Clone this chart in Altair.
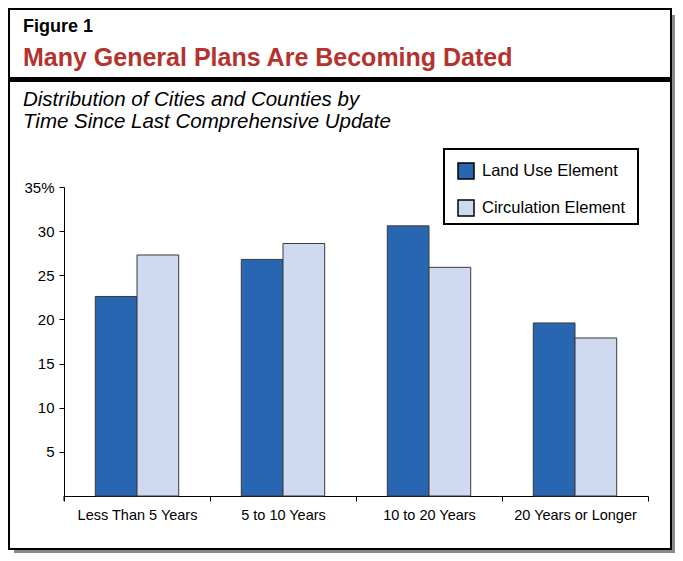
import altair as alt
import pandas as pd

categories = ["Less Than 5 Years", "5 to 10 Years", "10 to 20 Years", "20 Years or Longer"]
series = ["Land Use Element", "Circulation Element"]
land_use = [22.6, 26.8, 30.6, 19.6]
circulation = [27.3, 28.6, 25.9, 17.9]
colors = ["#2866b1", "#cfd9ef"]
y_ticks = [5, 10, 15, 20, 25, 30, 35]

fig_label = "Figure 1"
title_text = "Many General Plans Are Becoming Dated"
subtitle_lines = ["Distribution of Cities and Counties by", "Time Since Last Comprehensive Update"]

FONT = "Liberation Sans"

rows = []
for c, a, b in zip(categories, land_use, circulation):
    rows.append({"period": c, "element": series[0], "pct": a})
    rows.append({"period": c, "element": series[1], "pct": b})
df = pd.DataFrame(rows)
one = pd.DataFrame({"k": [0]})

W, H = 584, 309

# decorations (pixel positions relative to the plot area)
border = alt.Chart(one).mark_rect(fill=None, stroke="black", strokeWidth=2).encode(
    x=alt.value(-55), x2=alt.value(607), y=alt.value(-178), y2=alt.value(362))
shadow_r = alt.Chart(one).mark_rect(fill="#8a8a8a").encode(
    x=alt.value(608), x2=alt.value(611), y=alt.value(-172), y2=alt.value(366))
shadow_b = alt.Chart(one).mark_rect(fill="#8a8a8a").encode(
    x=alt.value(-50), x2=alt.value(611), y=alt.value(363), y2=alt.value(366))
band = alt.Chart(one).mark_rect(fill="black").encode(
    x=alt.value(-56), x2=alt.value(608), y=alt.value(-110), y2=alt.value(-105))

t_fig = alt.Chart(one).mark_text(font=FONT, fontSize=18, fontWeight="bold", align="left",
                                 baseline="alphabetic", color="black").encode(
    x=alt.value(-41), y=alt.value(-155), text=alt.value(fig_label))
t_title = alt.Chart(one).mark_text(font=FONT, fontSize=25, fontWeight="bold", align="left",
                                   baseline="alphabetic", color="#b5332e").encode(
    x=alt.value(-41), y=alt.value(-121), text=alt.value(title_text))
t_sub1 = alt.Chart(one).mark_text(font=FONT, fontSize=20.5, fontStyle="italic", align="left",
                                  baseline="alphabetic", color="black").encode(
    x=alt.value(-41), y=alt.value(-81), text=alt.value(subtitle_lines[0]))
t_sub2 = alt.Chart(one).mark_text(font=FONT, fontSize=20.5, fontStyle="italic", align="left",
                                  baseline="alphabetic", color="black").encode(
    x=alt.value(-41), y=alt.value(-59), text=alt.value(subtitle_lines[1]))

legend_box = alt.Chart(one).mark_rect(fill="white", stroke="black", strokeWidth=2).encode(
    x=alt.value(380), x2=alt.value(574), y=alt.value(-38), y2=alt.value(37))

yext = alt.Chart(one).mark_rule(color="black", strokeWidth=1).encode(
    x=alt.value(0), y=alt.value(H), y2=alt.value(H + 5))

bars = alt.Chart(df).mark_bar(stroke="#3a3a3a", strokeWidth=1).encode(
    x=alt.X("period:N", sort=categories,
            scale=alt.Scale(paddingInner=0, paddingOuter=0),
            axis=alt.Axis(title=None, labelAngle=0, tickBand="extent", tickSize=5,
                          labelPadding=7, labelFontSize=14.5, labelFont=FONT,
                          labelColor="black", domainColor="black", tickColor="black",
                          domainWidth=1, tickWidth=1, grid=False)),
    xOffset=alt.XOffset("element:N", sort=series,
                        scale=alt.Scale(paddingInner=0, paddingOuter=0.75)),
    y=alt.Y("pct:Q", scale=alt.Scale(domain=[0, 35], nice=False, zero=True),
            axis=alt.Axis(title=None, values=y_ticks, grid=False, tickSize=5,
                          labelPadding=5, labelFontSize=15, labelFont=FONT,
                          labelColor="black", domainColor="black", tickColor="black",
                          labelExpr="datum.value == 35 ? '35%' : datum.label")),
    color=alt.Color("element:N", sort=series,
                    scale=alt.Scale(domain=series, range=colors),
                    legend=alt.Legend(title=None, orient="none", legendX=393, legendY=-25,
                                      symbolType="square", symbolSize=256,
                                      symbolStrokeColor="black", symbolStrokeWidth=1.5,
                                      symbolOpacity=1,
                                      labelFont=FONT, labelFontSize=16.5, labelColor="black",
                                      labelOffset=7, rowPadding=15, padding=0)),
)

chart = alt.layer(
    border, shadow_r, shadow_b, band, t_fig, t_title, t_sub1, t_sub2, legend_box, yext, bars
).properties(
    width=W, height=H,
    padding={"left": 56, "top": 179, "right": 27, "bottom": 57},
    autosize=alt.AutoSizeParams(type="none"),
    view=alt.ViewBackground(stroke="transparent", strokeWidth=0),
).configure_view(stroke="transparent", strokeWidth=0).configure(background="white")

chart.save("out.html", embed_options={"renderer": "svg", "actions": False})
